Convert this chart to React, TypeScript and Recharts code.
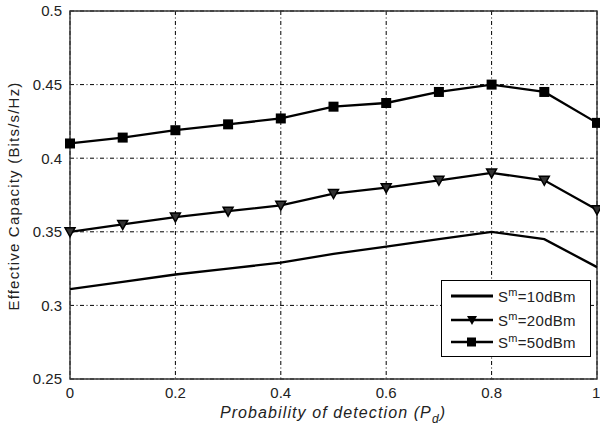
import React from "react";
import {
  CartesianGrid,
  Legend,
  Line,
  LineChart,
  ReferenceArea,
  XAxis,
  YAxis
} from "recharts";

// probability of detection P_d
const pd = [0, 0.1, 0.2, 0.3, 0.4, 0.5, 0.6, 0.7, 0.8, 0.9, 1];

// effective capacity (Bits/s/Hz) per transmit power
const cap10 = [0.311, 0.316, 0.321, 0.325, 0.329, 0.335, 0.34, 0.345, 0.35, 0.345, 0.326];
const cap20 = [0.35, 0.355, 0.36, 0.364, 0.368, 0.376, 0.38, 0.385, 0.39, 0.385, 0.365];
const cap50 = [0.41, 0.414, 0.419, 0.423, 0.427, 0.435, 0.4375, 0.445, 0.45, 0.445, 0.424];

const xTicks = [0, 0.2, 0.4, 0.6, 0.8, 1];
const yTicks = [0.25, 0.3, 0.35, 0.4, 0.45, 0.5];

const seriesLabels = ["=10dBm", "=20dBm", "=50dBm"];

const data = pd.map((x, i) => ({
  pd: x,
  s10: cap10[i],
  s20: cap20[i],
  s50: cap50[i]
}));

const font = "'Liberation Sans', Arial, sans-serif";

function SquareDot(props: any) {
  const { cx, cy, index } = props;
  return <rect key={`sq-${index}`} x={cx - 5} y={cy - 5} width={10} height={10} fill="#000" />;
}

function TriDot(props: any) {
  const { cx, cy, index } = props;
  return (
    <polygon
      key={`tri-${index}`}
      points={`${cx - 5},${cy - 4} ${cx + 5},${cy - 4} ${cx},${cy + 5}`}
      fill="#333"
      stroke="#000"
      strokeWidth={1.5}
    />
  );
}

function LegendBox() {
  const rows = [15, 39, 61];
  return (
    <div
      style={{
        position: "relative",
        width: 150,
        height: 77,
        border: "1px solid #000",
        background: "#fff",
        boxSizing: "border-box",
        fontFamily: font,
        fontSize: 15,
        color: "#222"
      }}
    >
      {rows.map((top, i) => (
        <div key={i} style={{ position: "absolute", left: 8, top: top - 9, height: 18, display: "flex", alignItems: "center" }}>
          <svg width={44} height={14}>
            <line x1={1} y1={7} x2={43} y2={7} stroke="#000" strokeWidth={i === 0 ? 3 : 2.5} />
            {i === 1 && <polygon points="17,3 27,3 22,12" fill="#000" />}
            {i === 2 && <rect x={17} y={2.5} width={9} height={9} fill="#000" />}
          </svg>
          <span style={{ marginLeft: 4, letterSpacing: 0.3 }}>
            S<sup style={{ fontSize: 11, verticalAlign: "6px", lineHeight: 0 }}>m</sup>
            {seriesLabels[i]}
          </span>
        </div>
      ))}
    </div>
  );
}

export default function App() {
  return (
    <div style={{ position: "absolute", left: 0, top: 0, width: 600, height: 430, background: "#fff" }}>
      <LineChart
        width={600}
        height={430}
        data={data}
        margin={{ top: 11, right: 3, left: 0, bottom: 0 }}
      >
        <CartesianGrid stroke="#000" strokeWidth={1} strokeDasharray="4 2.5 1 2.5" />
        <XAxis
          dataKey="pd"
          type="number"
          domain={[0, 1]}
          ticks={xTicks}
          height={51}
          axisLine={false}
          tickLine={false}
          tick={{ fill: "#222", fontSize: 15, fontFamily: font }}
          label={{
            value: "Probability of detection (Pd)",
            position: "insideBottom",
            offset: 10,
            content: () => (
              <text x={333} y={418} textAnchor="middle" fontFamily={font} fontSize={16} fontStyle="italic" fill="#222" letterSpacing={1.1}>
                Probability of detection (P
                <tspan fontSize={12} dy={5}>d</tspan>
                <tspan dy={-5}>)</tspan>
              </text>
            )
          }}
        />
        <YAxis
          type="number"
          domain={[0.25, 0.5]}
          ticks={yTicks}
          width={70}
          axisLine={false}
          tickLine={false}
          tick={{ fill: "#222", fontSize: 15, fontFamily: font }}
          label={{
            value: "Effective Capacity (Bits/s/Hz)",
            content: () => (
              <text
                x={19}
                y={196}
                transform="rotate(-90 19 196)"
                textAnchor="middle"
                fontFamily={font}
                fontSize={15}
                fill="#222"
                letterSpacing={1.2}
              >
                Effective Capacity (Bits/s/Hz)
              </text>
            )
          }}
        />
        <ReferenceArea x1={0} x2={1} y1={0.25} y2={0.5} fill="none" stroke="#333" strokeWidth={1.4} />
        <Line
          dataKey="s10"
          type="linear"
          stroke="#000"
          strokeWidth={2.3}
          dot={false}
          isAnimationActive={false}
        />
        <Line
          dataKey="s20"
          type="linear"
          stroke="#000"
          strokeWidth={2.3}
          dot={TriDot}
          isAnimationActive={false}
        />
        <Line
          dataKey="s50"
          type="linear"
          stroke="#000"
          strokeWidth={2.3}
          dot={SquareDot}
          isAnimationActive={false}
        />
        <Legend
          layout="horizontal"
          verticalAlign="middle"
          align="center"
          content={() => <LegendBox />}
          wrapperStyle={{ position: "absolute", left: 441, top: 280, width: 150, height: 77 }}
        />
      </LineChart>
    </div>
  );
}
